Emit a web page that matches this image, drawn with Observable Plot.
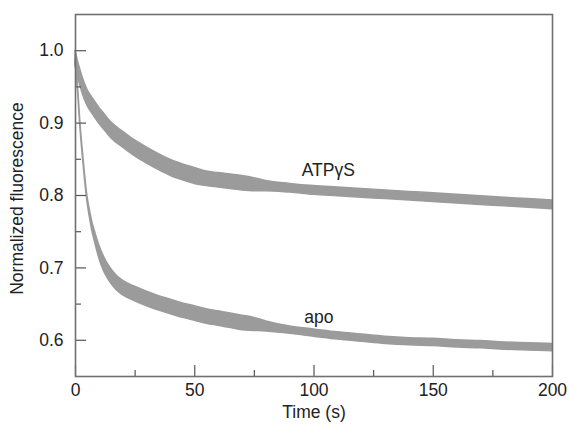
<!DOCTYPE html>
<html>
<head>
<meta charset="utf-8">
<script src="https://cdn.jsdelivr.net/npm/d3@7"></script>
<script src="https://cdn.jsdelivr.net/npm/@observablehq/plot@0.6"></script>
<style>
  html, body { margin: 0; padding: 0; background: #fff; }
  #chart { width: 569px; height: 425px; }
</style>
</head>
<body>
<div id="chart"></div>
<script>
// ATPγS trace: time (s), centre of the noisy band, half-width of the band
const atpTime   = [0, 1, 2, 3, 5, 7.5, 10, 12.5, 15, 20, 25, 30, 35, 40, 45, 50, 55, 60, 65, 70, 75, 80, 90, 100, 110, 120, 130, 140, 150, 160, 170, 180, 190, 200];
const atpValue  = [0.990, 0.975, 0.963, 0.952, 0.935, 0.922, 0.910, 0.900, 0.890, 0.877, 0.865, 0.855, 0.846, 0.838, 0.832, 0.827, 0.823, 0.821, 0.819, 0.817, 0.815, 0.813, 0.810, 0.807, 0.805, 0.803, 0.801, 0.799, 0.797, 0.795, 0.793, 0.791, 0.789, 0.787];
const atpSpread = [0.010, 0.011, 0.011, 0.011, 0.011, 0.011, 0.011, 0.011, 0.011, 0.011, 0.011, 0.011, 0.011, 0.011, 0.011, 0.011, 0.010, 0.010, 0.010, 0.010, 0.009, 0.007, 0.006, 0.006, 0.006, 0.006, 0.006, 0.006, 0.006, 0.006, 0.006, 0.006, 0.006, 0.006];

// apo trace
const apoTime   = [0, 0.5, 1, 2, 3, 4, 5, 6, 7, 8, 9, 10, 12, 14, 16, 18, 20, 25, 30, 35, 40, 45, 50, 55, 60, 65, 70, 75, 80, 90, 100, 110, 120, 130, 140, 150, 160, 170, 180, 190, 200];
const apoValue  = [0.985, 0.970, 0.950, 0.900, 0.860, 0.825, 0.795, 0.775, 0.758, 0.745, 0.733, 0.722, 0.705, 0.693, 0.684, 0.677, 0.672, 0.664, 0.657, 0.651, 0.646, 0.641, 0.637, 0.633, 0.630, 0.627, 0.624, 0.622, 0.619, 0.614, 0.610, 0.606, 0.603, 0.600, 0.598, 0.597, 0.595, 0.594, 0.592, 0.591, 0.590];
const apoSpread = [0.004, 0.004, 0.004, 0.004, 0.004, 0.004, 0.004, 0.005, 0.006, 0.007, 0.008, 0.009, 0.010, 0.010, 0.010, 0.010, 0.010, 0.010, 0.010, 0.010, 0.010, 0.010, 0.010, 0.010, 0.010, 0.010, 0.010, 0.009, 0.007, 0.005, 0.005, 0.005, 0.005, 0.005, 0.005, 0.005, 0.005, 0.005, 0.005, 0.005, 0.005];

// axis ticks
const xMajor = [0, 50, 100, 150, 200];
const xMinor = [25, 75, 125, 175];
const yMajor = [0.6, 0.7, 0.8, 0.9, 1.0];
const yMinor = [0.65, 0.75, 0.85, 0.95];

// curve labels
const labelText = ["ATP\u03B3S", "apo"];
const labelTime = [106, 102];
const labelValue = [0.834, 0.632];

const atp = atpTime.map((t, i) => ({t, lo: atpValue[i] - atpSpread[i], hi: atpValue[i] + atpSpread[i]}));
const apo = apoTime.map((t, i) => ({t, lo: apoValue[i] - apoSpread[i], hi: apoValue[i] + apoSpread[i]}));
const labels = labelText.map((s, i) => ({s, t: labelTime[i], v: labelValue[i]}));

const gray = "#9b9b9b";
const axisColor = "#555";

const chart = Plot.plot({
  width: 569,
  height: 425,
  marginLeft: 75,
  marginRight: 17,
  marginTop: 14,
  marginBottom: 49,
  style: {fontFamily: "'Liberation Sans', Arial, Helvetica, sans-serif", fontSize: "17.5px", color: "#222", background: "#fff"},
  x: {domain: [0, 200]},
  y: {domain: [0.55, 1.05]},
  marks: [
    Plot.areaY(atp, {x: "t", y1: "lo", y2: "hi", fill: gray, stroke: gray, strokeWidth: 1.5, curve: "monotone-x"}),
    Plot.areaY(apo, {x: "t", y1: "lo", y2: "hi", fill: gray, stroke: gray, strokeWidth: 1.5, curve: "monotone-x"}),
    Plot.axisX({ticks: xMajor, tickSize: 0, tickPadding: 7, label: null, fontSize: 17.5}),
    Plot.axisX({ticks: xMajor, tickSize: -11, tickFormat: () => "", label: null, stroke: axisColor, strokeWidth: 1.2}),
    Plot.axisX({ticks: xMinor, tickSize: -6, tickFormat: () => "", label: null, stroke: axisColor, strokeWidth: 1.2}),
    Plot.axisY({ticks: yMajor, tickFormat: d3.format(".1f"), tickSize: 0, tickPadding: 12, label: null, fontSize: 17.5}),
    Plot.axisY({ticks: yMajor, tickSize: -11, tickFormat: () => "", label: null, stroke: axisColor, strokeWidth: 1.2}),
    Plot.axisY({ticks: yMinor, tickSize: -6, tickFormat: () => "", label: null, stroke: axisColor, strokeWidth: 1.2}),
    Plot.frame({stroke: "#707070", strokeWidth: 1.6}),
    Plot.text(["Time (s)"], {frameAnchor: "bottom", dy: 41, fontSize: 17.5, fill: "#222"}),
    Plot.text(["Normalized fluorescence"], {frameAnchor: "left", textAnchor: "middle", dx: -58, dy: 3, rotate: -90, fontSize: 17.5, fill: "#222"}),
    Plot.text(labels, {x: "t", y: "v", text: "s", fontSize: 17.5, fill: "#222"})
  ]
});
document.getElementById("chart").appendChild(chart);
</script>
</body>
</html>
